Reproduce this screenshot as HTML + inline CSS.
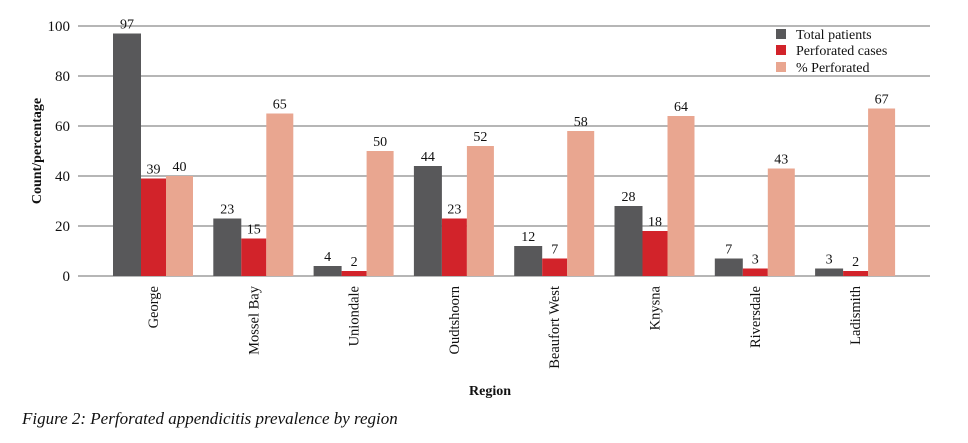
<!DOCTYPE html>
<html><head><meta charset="utf-8"><style>
body{margin:0;background:#fff;width:968px;height:438px;overflow:hidden}
text{font-family:"Liberation Serif",serif;fill:#111}
</style></head><body>
<svg width="968" height="438">
<g id="grid"></g><g id="bars"></g><g id="labels"></g>
<text x="41" y="151" font-size="14" font-weight="bold" text-anchor="middle" transform="rotate(-90 41 151)">Count/percentage</text>
<text x="490" y="395" font-size="14" font-weight="bold" text-anchor="middle">Region</text>
<text x="22" y="424" font-size="17" font-style="italic">Figure 2: Perforated appendicitis prevalence by region</text>
<g>
<rect x="776" y="29" width="10" height="10" fill="#58585a"/>
<text x="796" y="39" font-size="14">Total patients</text>
<rect x="776" y="45" width="10" height="10" fill="#d2232a"/>
<text x="796" y="55" font-size="14">Perforated cases</text>
<rect x="776" y="62" width="10" height="10" fill="#e9a690"/>
<text x="796" y="72" font-size="14">% Perforated</text>
</g>
</svg>
<script>
const categories=["George","Mossel Bay","Uniondale","Oudtshoorn","Beaufort West","Knysna","Riversdale","Ladismith"];
const totalPatients=[97,23,4,44,12,28,7,3];
const perforatedCases=[39,15,2,23,7,18,3,2];
const percentPerforated=[40,65,50,52,58,64,43,67];
const yTicks=[0,20,40,60,80,100];
const NS="http://www.w3.org/2000/svg";
const y=v=>276-v*2.5;
const x0=i=>113+i*100.3;
function mk(t,a,p){const e=document.createElementNS(NS,t);for(const k in a)e.setAttribute(k,a[k]);p.appendChild(e);return e;}
const grid=document.getElementById('grid'),bars=document.getElementById('bars'),labels=document.getElementById('labels');
yTicks.forEach(v=>{
 const l=mk('line',{x1:78,x2:930,y1:y(v),y2:y(v),stroke:'#8a8a8a','stroke-width':1.2},grid);
 
 
 const t=mk('text',{x:70,y:y(v)+5,'font-size':15,'text-anchor':'end'},grid);t.textContent=v;
 
 
});
const series=[[totalPatients,'#58585a',0,28,'total'],[perforatedCases,'#d2232a',28,25,'perforated'],[percentPerforated,'#e9a690',53,27,'percent']];
categories.forEach((c,i)=>{
 series.forEach(([arr,col,off,w,nm])=>{
  const v=arr[i];
  const r=mk('rect',{x:x0(i)+off,y:y(v),width:w,height:v*2.5,fill:col},bars);
  
  
  const t=mk('text',{x:x0(i)+off+w/2,y:y(v)-5,'font-size':14,'text-anchor':'middle'},labels);t.textContent=v;
  
  
 });
 const cx=x0(i)+40+5;
 const t=mk('text',{x:cx,y:286,'font-size':14.5,'text-anchor':'end',transform:`rotate(-90 ${cx} 286)`},labels);t.textContent=c;
 
 
});
</script>
</body></html>
